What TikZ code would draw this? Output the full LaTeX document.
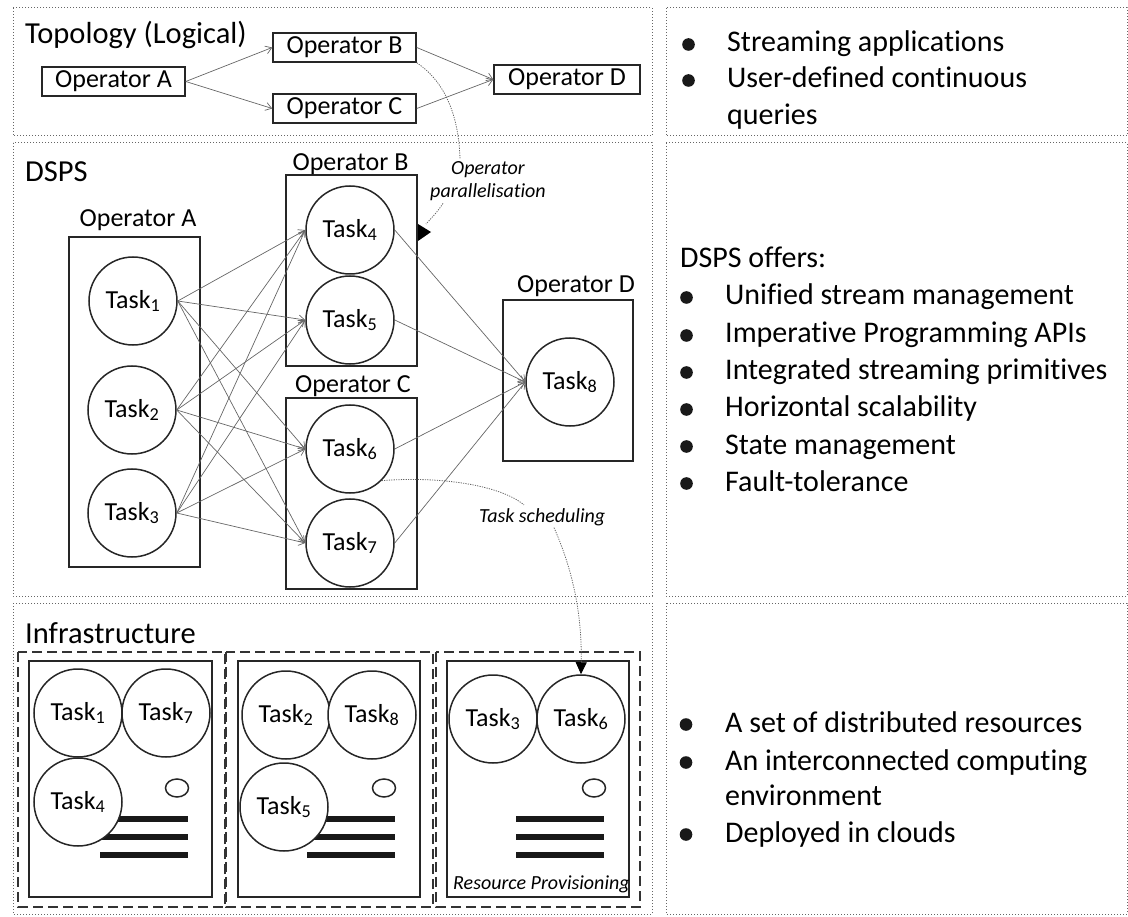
\documentclass[tikz,border=0pt]{standalone}
\usepackage{fontspec}
\setmainfont{Carlito}[Ligatures={NoCommon}]
\usetikzlibrary{arrows.meta,calc}
\newcommand{\tk}[1]{Task\textsubscript{#1}}
\begin{document}
\begin{tikzpicture}[x=1pt,y=-1pt,
  frame/.style={draw=black!60, line width=1pt, dash pattern=on 1pt off 2pt},
  opbox/.style={draw=black!85, line width=1.5pt, inner sep=0pt},
  topop/.style={opbox, minimum width=143pt, minimum height=29pt, font=\fontsize{26}{30}\selectfont},
  oplbl/.style={inner sep=0pt, font=\fontsize{26}{30}\selectfont},
  title/.style={inner sep=0pt, font=\fontsize{30.5}{36}\selectfont},
  rtext/.style={inner sep=0pt, anchor=base west, font=\fontsize{30}{36}\selectfont},
  itlbl/.style={inner sep=0pt, font=\fontsize{20}{23}\selectfont\itshape},
  task/.style={circle, draw=black!85, line width=1.5pt, minimum size=88pt, inner sep=0pt, fill=white, font=\fontsize{26}{30}\selectfont},
  flow/.style={draw=black!60, line width=0.7pt, -{Straight Barb[length=6pt,width=8pt]}},
  note/.style={draw=black!60, line width=0.8pt, dash pattern=on 1.2pt off 1.2pt},
  dashbox/.style={draw=black!80, line width=2pt, dash pattern=on 10pt off 5pt},
  bar/.style={draw=black!90, line width=6pt},
  smallc/.style={draw=black!85, line width=1.5pt},
  bul/.style={fill=black!90}
]
\useasboundingbox (0,0) rectangle (1128,917);

% section frames
\draw[frame] (13,8) rectangle (652,136);
\draw[frame] (13,143) rectangle (652,596);
\draw[frame] (13,603) rectangle (652,914);
\draw[frame] (666,8) rectangle (1127,136);
\draw[frame] (666,143) rectangle (1127,596);
\draw[frame] (666,603) rectangle (1127,914);

% titles
\node[title, anchor=base west] (ttop) at (25,44) {Topology (Logical)};
\node[title, anchor=base west] (tdsps) at (25,182) {DSPS};
\node[title, anchor=base west] (tinf) at (25,643) {Infrastructure};

% logical topology
\node[topop] (ta) at (113.5,81.5) {Operator A};
\node[topop] (tb) at (344.5,47.5) {Operator B};
\node[topop] (tc) at (344.5,108.5) {Operator C};
\node[topop, minimum width=146pt] (td) at (567,79.5) {Operator D};
\draw[flow] (ta.east) -- (tb.west);
\draw[flow] (ta.east) -- (tc.west);
\draw[flow] (tb.east) -- (td.west);
\draw[flow] (tc.east) -- (td.west);

% DSPS operators
\node[opbox, minimum width=131pt, minimum height=330pt] (oa) at (134.5,402) {};
\node[opbox, minimum width=131pt, minimum height=191pt] (ob) at (351.5,270.5) {};
\node[opbox, minimum width=131pt, minimum height=191pt] (oc) at (351.5,493.5) {};
\node[opbox, minimum width=130pt, minimum height=161pt] (od) at (568,380.5) {};
\node[oplbl, anchor=base] (la) at (138,227) {Operator A};
\node[oplbl, anchor=base] (lb) at (350.5,171) {Operator B};
\node[oplbl, anchor=base] (lc) at (353,393) {Operator C};
\node[oplbl, anchor=base] (ld) at (576,293) {Operator D};

\node[task] (t1) at (133,301) {\tk1};
\node[task] (t2) at (132,410) {\tk2};
\node[task] (t3) at (132,513) {\tk3};
\node[task] (t4) at (350,230) {\tk4};
\node[task] (t5) at (350,320) {\tk5};
\node[task] (t6) at (350,449) {\tk6};
\node[task] (t7) at (350,543) {\tk7};
\node[task] (t8) at (570,382) {\tk8};

\foreach \s in {t1,t2,t3}
  \foreach \d in {t4,t5,t6,t7}
    \draw[flow] (\s.east) -- (\d.west);
\foreach \s in {t4,t5,t6,t7}
  \draw[flow] (\s.east) -- (t8.west);

% operator parallelisation
\node[itlbl, anchor=base] (pl1) at (488,175) {Operator};
\node[itlbl, anchor=base] (pl2) at (488,198) {parallelisation};
\draw[note] (tb.south east) .. controls (450,85) and (459,125) .. ($(pl1.north west)+(9,-3)$);
\coordinate (pa) at (426,224);
\draw[note] ($(pl2.south west)+(13,2)$) .. controls (437,212) .. (pa);
\fill[black] (418,224) -- (418,241) -- (431,232) -- cycle;

% infrastructure
\draw[dashbox] (18,652) rectangle (225,907);
\draw[dashbox] (226,652) rectangle (433,907);
\draw[dashbox] (436,652) rectangle (640,907);
\draw[opbox] (29,661) rectangle (212,897);
\draw[opbox] (238,661) rectangle (420,897);
\draw[opbox] (447,661) rectangle (629,897);

\foreach \dx in {0,207,416} {
  \draw[bar] (100+\dx,819) -- (188+\dx,819);
  \draw[bar] (100+\dx,837) -- (188+\dx,837);
  \draw[bar] (100+\dx,855) -- (188+\dx,855);
}
\draw[smallc] (177,788) ellipse [x radius=11.5pt, y radius=9pt];
\draw[smallc] (384,788) ellipse [x radius=11.5pt, y radius=9pt];
\draw[smallc] (594,788) ellipse [x radius=11.5pt, y radius=9pt];

\node[task] (i1) at (78,713) {\tk1};
\node[task] (i7) at (166,713) {\tk7};
\node[task] (i4) at (78,802) {\tk4};
\node[task] (i2) at (286,715) {\tk2};
\node[task] (i8) at (372,715) {\tk8};
\node[task] (i5) at (284,807) {\tk5};
\node[task] (i3) at (493,719) {\tk3};
\node[task] (i6) at (581,719) {\tk6};

\node[itlbl, anchor=base west] (rp) at (453,889) {Resource Provisioning};

% task scheduling
\node[itlbl, anchor=base west] (ts) at (479,522) {Task scheduling};
\draw[note] (t6.-45) .. controls (440,476) and (500,485) .. ($(ts.north west)+(45,-3)$);
\draw[note, -{Triangle[length=12pt,width=11pt,black]}] ($(ts.south west)+(75,2)$) .. controls (575,575) and (582,620) .. (i6.north);

% right column
\fill[bul] (688.5,44.5) circle (6.3pt);
\node[rtext] (r1) at (727,52) {Streaming applications};
\fill[bul] (688.5,80.5) circle (6.3pt);
\node[rtext] (r2) at (727,88) {User-defined continuous};
\node[rtext] (r3) at (727,125) {queries};

\node[rtext] (d0) at (680,268) {DSPS offers:};
\foreach \y/\t [count=\i] in {305/Unified stream management,343/Imperative Programming APIs,380/Integrated streaming primitives,417/Horizontal scalability,454/State management,491/Fault-tolerance} {
  \fill[bul] (686.5,\y-7.5) circle (6.3pt);
  \node[rtext] (d\i) at (725,\y) {\t};
}

\fill[bul] (686,724.5) circle (6.3pt);
\node[rtext] (b1) at (725,732) {A set of distributed resources};
\fill[bul] (686,762.5) circle (6.3pt);
\node[rtext] (b2) at (725,770) {An interconnected computing};
\node[rtext] (b3) at (725,805) {environment};
\fill[bul] (686,834.5) circle (6.3pt);
\node[rtext] (b4) at (725,842) {Deployed in clouds};
\end{tikzpicture}
\end{document}
